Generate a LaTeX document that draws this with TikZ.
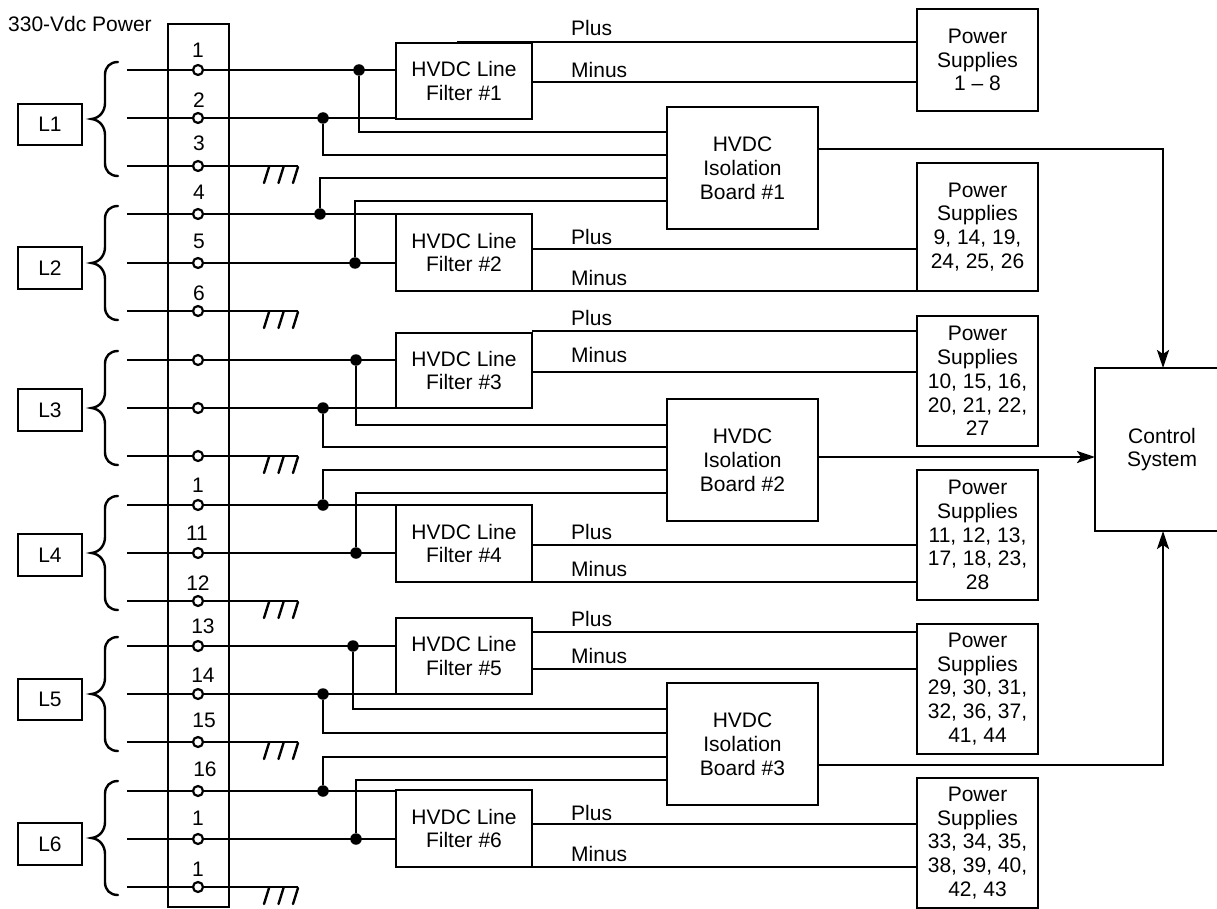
\documentclass[tikz,border=0pt]{standalone}
\usepackage{fontspec}
\setmainfont{Liberation Sans}
\usetikzlibrary{arrows.meta}
\definecolor{ink}{HTML}{000000}
\tikzset{
  every node/.style={font=\fontsize{21}{23.8}\selectfont,text=ink},
  wire/.style={draw=ink,line width=2.4pt},
  box/.style={draw=ink,line width=2.4pt,align=center,inner sep=0pt,outer sep=0pt},
  term/.style={circle,draw=ink,fill=white,line width=2.2pt,minimum size=10pt,inner sep=0pt,outer sep=0pt},
  dotj/.style={circle,fill=ink,minimum size=11.5pt,inner sep=0pt,outer sep=0pt},
  lab/.style={anchor=base west,inner sep=0pt},
  arrowed/.style={wire,-{Stealth[length=18pt,width=12pt,inset=4pt]}},
}
% \boxat{name}{x0}{y0}{x1}{y1}{text}
\newcommand{\boxat}[6]{%
  \pgfmathsetmacro{\bw}{#4-#2}\pgfmathsetmacro{\bh}{#5-#3}%
  \node[box,minimum width=\bw pt,minimum height=\bh pt] (#1) at ({(#2+#4)/2},{(#3+#5)/2}) {#6};}
\newcommand{\bracketat}[1]{%
  \draw[wire,line cap=round] (118,#1-57) .. controls (110,#1-57) and (105,#1-52) .. (105,#1-44) -- (105,#1-16)
    .. controls (105,#1-8) and (100,#1-1) .. (91.5,#1) .. controls (100,#1+1) and (105,#1+8) .. (105,#1+16)
    -- (105,#1+44) .. controls (105,#1+52) and (110,#1+57) .. (118,#1+57);}
\newcommand{\groundat}[1]{%
  \draw[wire,line cap=round] (269,#1+1) -- (264,#1+17) (283.5,#1+1) -- (278.5,#1+17) (298,#1+1) -- (293,#1+17);}
\begin{document}
\begin{tikzpicture}[x=1pt,y=-1pt]
\useasboundingbox (0,0) rectangle (1217,909);
% terminal strip
\draw[wire] (168,24) rectangle (229,907);
\node[anchor=base west,inner sep=0pt] (title) at (8,32) {330-Vdc Power};
% boxes
\boxat{L1}{18}{104}{82}{145}{\raisebox{-1.5pt}{L1}}
\boxat{L2}{18}{247}{82}{289}{\raisebox{-1.5pt}{L2}}
\boxat{L3}{18}{389}{82}{431}{\raisebox{-1.5pt}{L3}}
\boxat{L4}{18}{534}{82}{576}{\raisebox{-1.5pt}{L4}}
\boxat{L5}{18}{679}{82}{720}{\raisebox{-1.5pt}{L5}}
\boxat{L6}{18}{823}{82}{865}{\raisebox{-1.5pt}{L6}}
\boxat{F1}{396}{43}{532}{119}{HVDC Line\\Filter \#1}
\boxat{F2}{396}{214}{532}{291}{HVDC Line\\Filter \#2}
\boxat{F3}{396}{333}{532}{408}{HVDC Line\\Filter \#3}
\boxat{F4}{396}{505}{532}{582}{HVDC Line\\Filter \#4}
\boxat{F5}{396}{618}{532}{694}{HVDC Line\\Filter \#5}
\boxat{F6}{396}{790}{532}{867}{HVDC Line\\Filter \#6}
\boxat{B1}{667}{107}{818}{229}{HVDC\\Isolation\\Board \#1}
\boxat{B2}{667}{399}{818}{521}{HVDC\\Isolation\\Board \#2}
\boxat{B3}{667}{683}{818}{805}{HVDC\\Isolation\\Board \#3}
\boxat{P1}{917}{9}{1038}{111}{Power\\Supplies\\1 -- 8}
\boxat{P2}{917}{163}{1038}{291}{Power\\Supplies\\9, 14, 19,\\24, 25, 26}
\boxat{P3}{917}{316}{1038}{446}{Power\\Supplies\\10, 15, 16,\\20, 21, 22,\\27}
\boxat{P4}{917}{470}{1038}{600}{Power\\Supplies\\11, 12, 13,\\17, 18, 23,\\28}
\boxat{P5}{917}{624}{1038}{754}{Power\\Supplies\\29, 30, 31,\\32, 36, 37,\\41, 44}
\boxat{P6}{917}{778}{1038}{908}{Power\\Supplies\\33, 34, 35,\\38, 39, 40,\\42, 43}
\boxat{C}{1095}{368}{1219}{531}{}
\node[align=center,inner sep=0pt] (Ctext) at (1162,449.5) {Control\\System};
% braces and grounds
\foreach \m in {119,263,408,553,694,838} {\bracketat{\m}}
\foreach \g in {166,311,456,601,742,887} {\groundat{\g}}
% rows: index / y
\foreach \i/\y in {1/70,2/118,3/166,4/214,5/263,6/311,7/360,8/408,9/456,10/505,11/553,12/601,13/646,14/694,15/742,16/791,17/839,18/887} {
  \coordinate (s\i) at (127,\y);
  \node[term] (t\i) at (198,\y) {};
  \draw[wire] (s\i) -- (t\i);
}
% ground side wires
\foreach \i in {3,6,9,12,15,18} {
  \coordinate (g\i) at (298,0);
  \draw[wire] (t\i) -- (t\i -| g\i);
}
% junctions
\foreach \n/\x/\i in {a1/359/1,a2/323/2,a3/320/4,a4/355/5,b1/356/7,b2/323/8,b3/323/10,b4/356/11,c1/353/13,c2/323/14,c3/323/16,c4/356/17} {
  \coordinate (tmp) at (\x,0);
  \node[dotj] (\n) at (tmp |- t\i) {};
}
% wires into filters
\foreach \i/\f in {1/F1,2/F1,4/F2,5/F2,7/F3,8/F3,10/F4,11/F4,13/F5,14/F5,16/F6,17/F6} {
  \draw[wire] (t\i) -- (t\i -| \f.west);
}
% wires to isolation boards
\foreach \n/\b/\y in {a1/B1/132,a2/B1/155,a3/B1/178,a4/B1/201,b1/B2/425,b2/B2/447,b3/B2/470,b4/B2/493,c1/B3/709,c2/B3/733,c3/B3/757,c4/B3/780} {
  \coordinate (e\n) at (667,\y);
  \draw[wire] (\n) |- (e\n);
}
% filter outputs
\foreach \p/\x/\y in {P1/457/42,P1/532/82,P2/532/249,P2/457/291,P3/532/331,P3/532/372,P4/532/545,P4/457/582,P5/532/632,P5/532/669,P6/532/824,P6/457/867} {
  \coordinate (os) at (\x,\y);
  \draw[wire] (os) -- (os -| \p.west);
}
% board outputs
\coordinate (o1) at (818,149);
\coordinate (o2) at (818,457);
\coordinate (o3) at (818,765);
\coordinate (cx) at (1163,0);
\draw[arrowed] (o1) -| (cx |- C.north);
\draw[arrowed] (o2) -- (o2 -| C.west);
\draw[arrowed] (o3) -| (cx |- C.south);
% line labels
\foreach \t/\y in {Plus/36,Minus/78,Plus/244,Minus/285,Plus/325,Minus/362,Plus/539,Minus/576,Plus/626,Minus/663,Plus/820,Minus/861} {
  \node[lab] (w\y) at (571,\y) {\t};
}
% terminal numbers
\foreach \t/\x/\y in {1/198/58,2/199/108,3/199/151,4/199/200,5/199/249,6/199/300,1/198/492,11/197/540,12/198/590,13/203/633,14/203/682,15/204/727,16/205/776,1/198/825,1/198/876} {
  \node[anchor=base,inner sep=0pt] (n\y) at (\x,\y) {\t};
}
\end{tikzpicture}
\end{document}
